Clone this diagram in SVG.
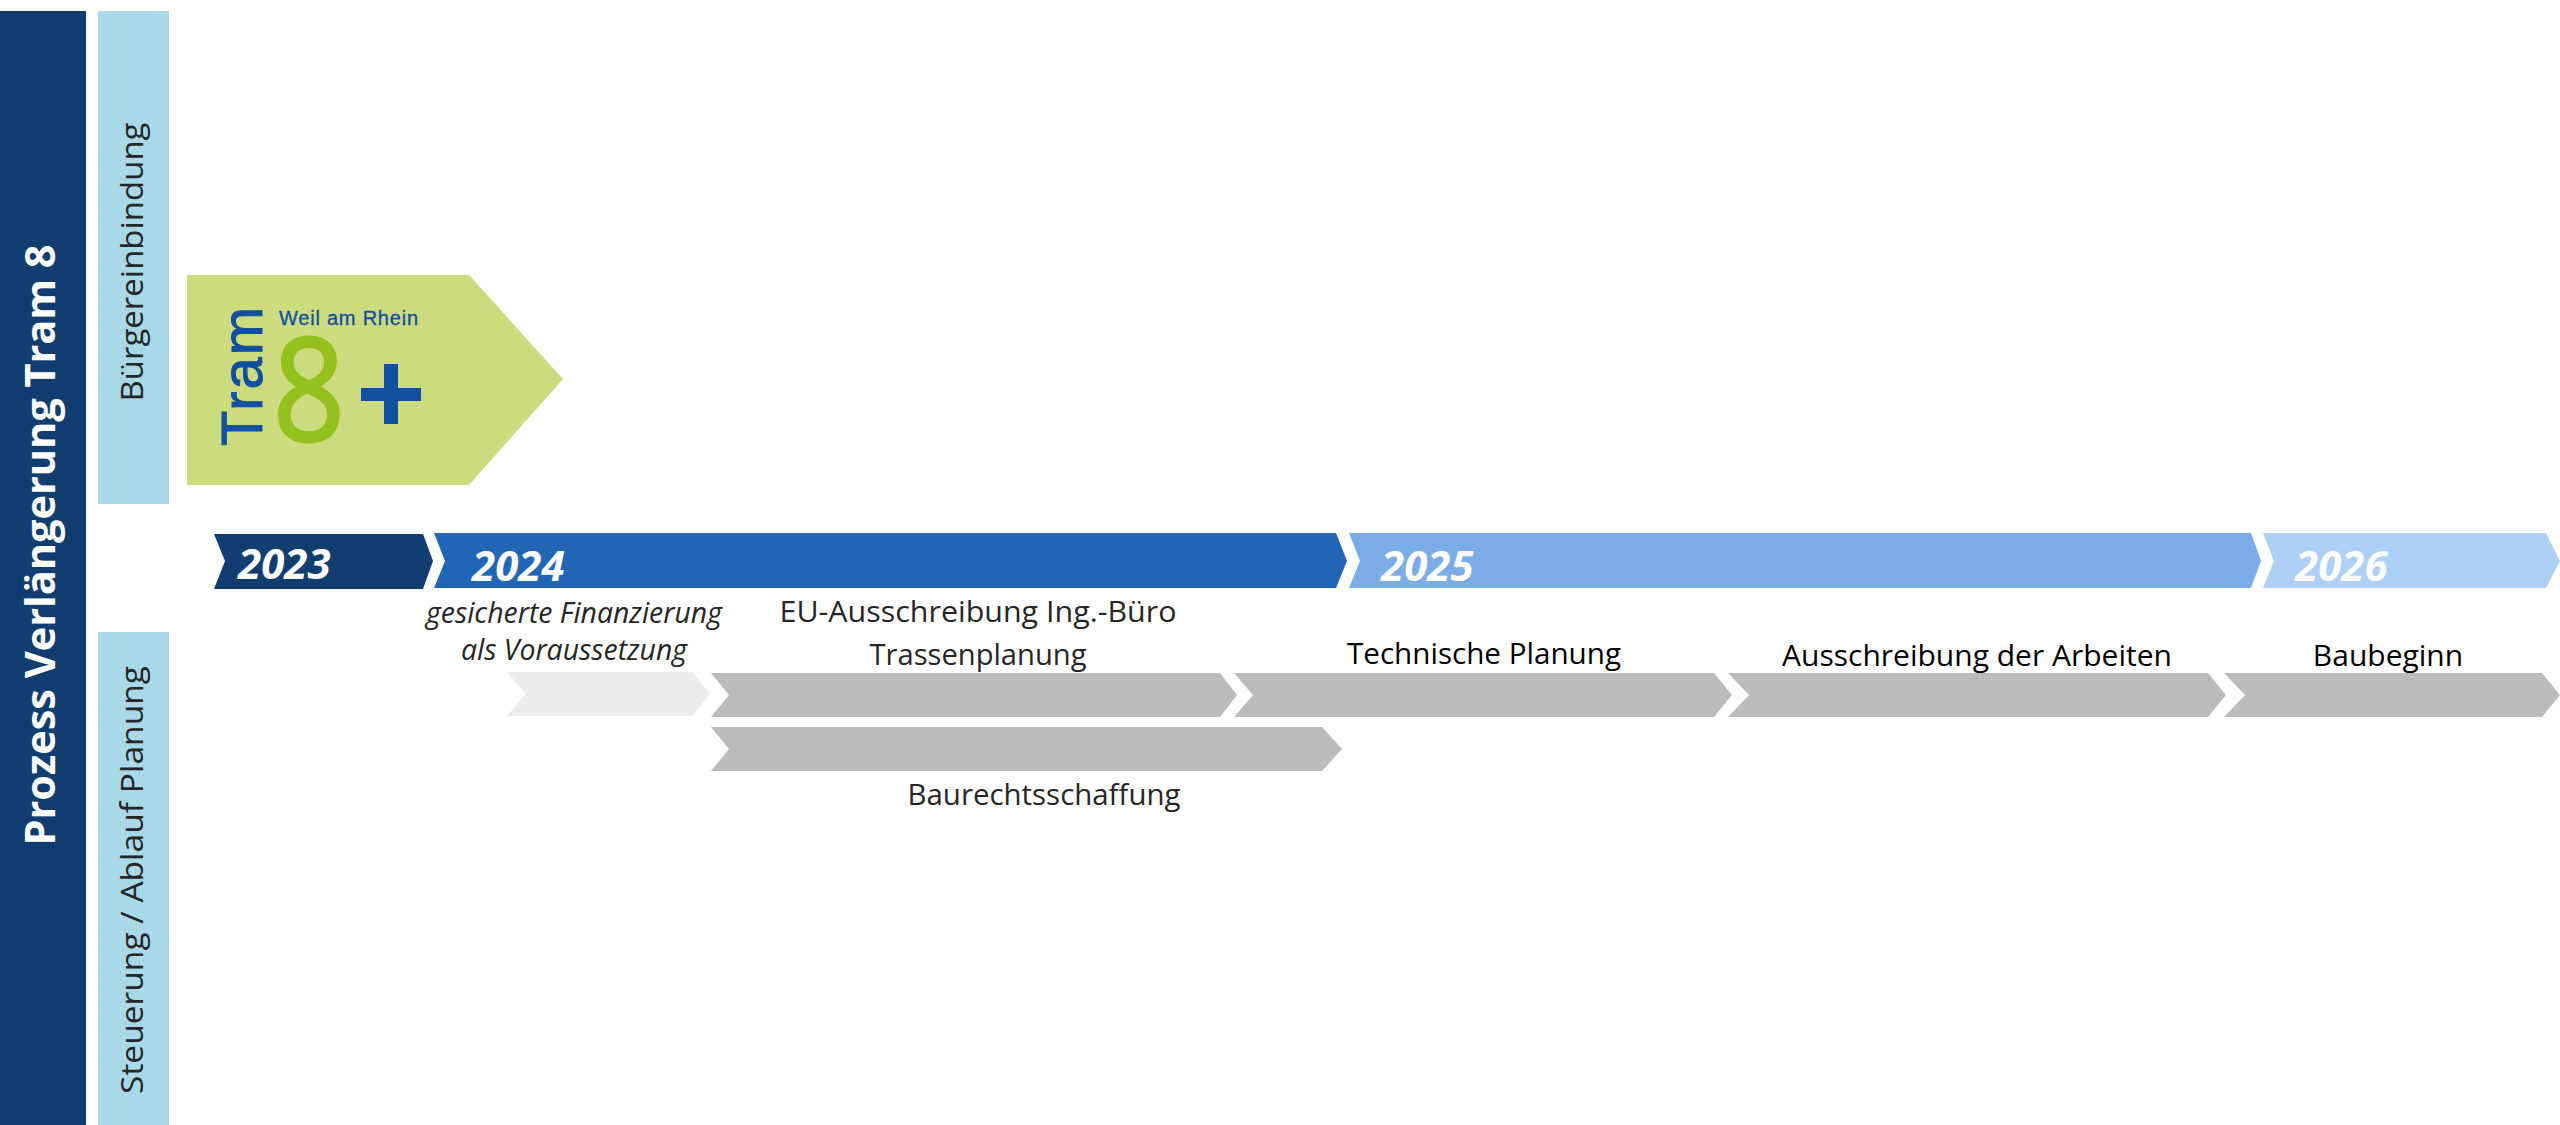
<svg xmlns="http://www.w3.org/2000/svg" width="2560" height="1125" viewBox="0 0 2560 1125">
<style>
text{font-family:"Open Sans","Noto Sans",sans-serif}
.lbl{font-size:30px;fill:#262626;text-anchor:middle}
.blk{font-size:30px;fill:#000;text-anchor:middle}
.it{font-size:28.4px;fill:#262626;font-style:italic;text-anchor:middle}
.yr{font-size:42px;font-weight:700;font-style:italic;fill:#fff}
.gray{fill:#bbbbbb}
.side{fill:#a9d9e8}
.vl{font-size:31px;fill:#262626;text-anchor:middle}
.logo{font-family:"Liberation Sans","DejaVu Sans",sans-serif;fill:#10509f}
</style>
<rect width="2560" height="1125" fill="#fff"/>
<g id="title"><rect x="0" y="11" width="86" height="1114" fill="#123d70"/>
<text transform="translate(55 545) rotate(-90)" font-size="41" font-weight="700" fill="#fff" text-anchor="middle" textLength="601" lengthAdjust="spacingAndGlyphs">Prozess Verlängerung Tram 8</text></g>
<g id="lane-buerger"><rect class="side" x="98" y="11" width="71" height="493"/>
<text class="vl" transform="translate(143 262) rotate(-90)" textLength="279" lengthAdjust="spacingAndGlyphs">Bürgereinbindung</text></g>
<g id="lane-steuerung"><rect class="side" x="98" y="632" width="71" height="493"/>
<text class="vl" transform="translate(143 880) rotate(-90)" textLength="428" lengthAdjust="spacingAndGlyphs">Steuerung / Ablauf Planung</text></g>
<g id="logo"><polygon points="187,275 469,275 563,379 469,485 187,485" fill="#cbdb7e"/>
<text class="logo" transform="translate(262 446) rotate(-90)" font-size="58" stroke="#10509f" stroke-width="1" textLength="139" lengthAdjust="spacing">Tram</text>
<text class="logo" x="279" y="325" font-size="20" stroke="#10509f" stroke-width=".3" textLength="139" lengthAdjust="spacing">Weil am Rhein</text>
<text transform="translate(309 441) scale(.88 1)" font-family="'Liberation Sans',sans-serif" font-size="143" fill="#95c11f" stroke="#95c11f" stroke-width="3" text-anchor="middle">8</text>
<rect x="361" y="388" width="60" height="13" fill="#10509f"/><rect x="384" y="364" width="14" height="60" fill="#10509f"/></g>
<g id="y2023"><polygon points="214,534 423,534 433,561 423,589 214,589 225,561" fill="#123d70"/><text class="yr" x="238" y="579">2023</text></g>
<g id="y2024"><polygon points="434,533 1336,533 1347,561 1336,588 434,588 445,561" fill="#2066b5"/><text class="yr" x="472" y="581">2024</text></g>
<g id="y2025"><polygon points="1349,533 2251,533 2261,561 2251,588 1349,588 1360,561" fill="#7aade8"/><text class="yr" x="1381" y="581">2025</text></g>
<g id="y2026"><polygon points="2263,533 2546,533 2560,561 2546,588 2263,588 2274,561" fill="#aed0f7"/><text class="yr" x="2295" y="581">2026</text></g>
<g id="finanzierung"><polygon points="507,672 692,672 710,694 692,716 507,716 526,694" fill="#ebebeb"/>
<text class="it"><tspan x="574" y="623">gesicherte Finanzierung</tspan><tspan x="574" y="660">als Voraussetzung</tspan></text></g>
<g id="trassenplanung"><polygon class="gray" points="711,673 1220,673 1237,695 1220,717 711,717 729,695"/>
<text class="lbl"><tspan x="978" y="622" textLength="397" lengthAdjust="spacingAndGlyphs">EU-Ausschreibung Ing.-Büro</tspan><tspan x="978" y="665" textLength="217" lengthAdjust="spacingAndGlyphs">Trassenplanung</tspan></text></g>
<g id="technisch"><polygon class="gray" points="1234,673 1714,673 1732,695 1714,717 1234,717 1253,695"/>
<text class="blk" x="1484" y="664" textLength="274" lengthAdjust="spacingAndGlyphs">Technische Planung</text></g>
<g id="ausschreibung"><polygon class="gray" points="1728,673 2208,673 2226,695 2208,717 1728,717 1749,695"/>
<text class="blk" x="1977" y="666">Ausschreibung der Arbeiten</text></g>
<g id="baubeginn"><polygon class="gray" points="2224,673 2542,673 2560,695 2542,717 2224,717 2245,695"/>
<text class="blk" x="2388" y="666">Baubeginn</text></g>
<g id="baurecht"><polygon class="gray" points="711,727 1322,727 1342,749 1322,771 711,771 729,749"/>
<text class="lbl" x="1044" y="805" textLength="273" lengthAdjust="spacingAndGlyphs">Baurechtsschaffung</text></g>
<g id="connectors"></g>
</svg>
